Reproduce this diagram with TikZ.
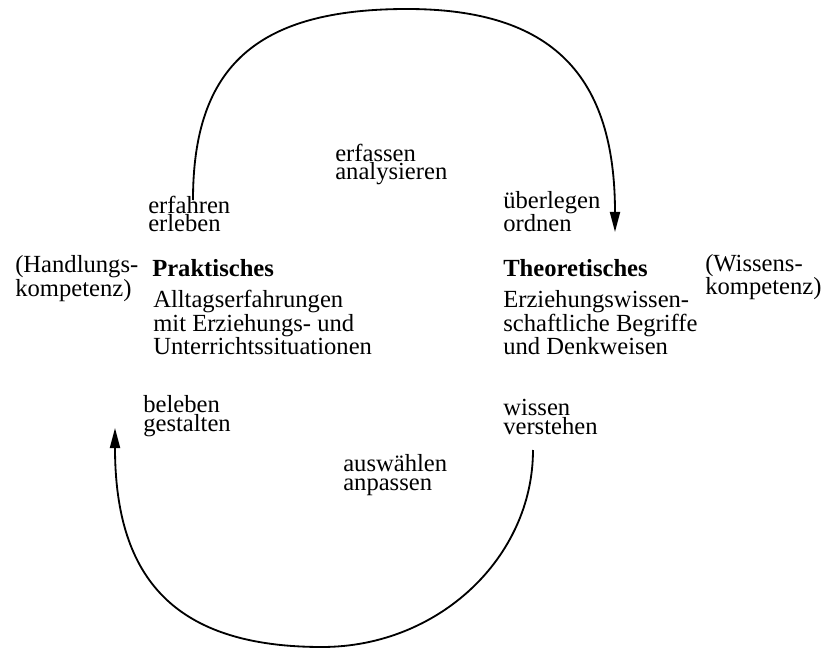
\documentclass[tikz,border=0pt]{standalone}
\usepackage{fontspec}
\setmainfont{Liberation Serif}
\usetikzlibrary{arrows.meta}

\begin{document}
\begin{tikzpicture}[
    x=0.025cm, y=-0.025cm,
    >={Triangle[length=0.5cm, width=0.25cm]},
    lbl/.style={
      anchor=base west, align=left, inner sep=0pt,
      font=\fontsize{17.5}{13.5}\selectfont,
    },
    head/.style={lbl, font=\fontsize{17.5}{13.5}\selectfont\bfseries},
    cycle/.style={draw=black, line width=1.3pt},
  ]
  \useasboundingbox (0,0) rectangle (825,650);

  % --- Praktisches / Theoretisches (y = baseline of last line) ---
  \node[lbl] (hk) at (15,296) {(Handlungs-\\kompetenz)};
  \node[head] (prak) at (152,277) {Praktisches};
  \node[lbl] (prakT) at (153,355)
    {Alltagserfahrungen\\mit Erziehungs- und\\Unterrichtssituationen};
  \node[head] (theo) at (503,277) {Theoretisches};
  \node[lbl] (wk) at (705,295) {(Wissens-\\kompetenz)};
  \node[lbl] (theoT) at (503,355)
    {Erziehungswissen-\\schaftliche Begriffe\\und Denkweisen};

  % --- verbs ---
  \node[lbl] (vErf) at (335,180) {erfassen\\analysieren};
  \node[lbl] (vErl) at (148,232) {erfahren\\erleben};
  \node[lbl] (vUeb) at (503,232) {überlegen\\ordnen};
  \node[lbl] (vBel) at (143,431) {beleben\\gestalten};
  \node[lbl] (vWis) at (503,434) {wissen\\verstehen};
  \node[lbl] (vAus) at (343,490) {auswählen\\anpassen};

  % ================================================================
  %  CYCLE  —  upper arc to the right, lower arc back to the left
  % ================================================================
  \coordinate (tL) at (193,200);
  \coordinate (tM) at (407,9);
  \coordinate (tR) at (615,232);
  \coordinate (bR) at (533,450);
  \coordinate (bM) at (322,647);
  \coordinate (bL) at (115,428);

  \draw[cycle, ->] (tL) .. controls +(0,-134) and +(-150,0) .. (tM)
    .. controls +(146,0) and +(0,-156) .. (tR);
  \draw[cycle, ->] (bR) .. controls +(0,108) and +(116,0) .. (bM)
    .. controls +(-145,0) and +(0,153) .. (bL);

\end{tikzpicture}
\end{document}
